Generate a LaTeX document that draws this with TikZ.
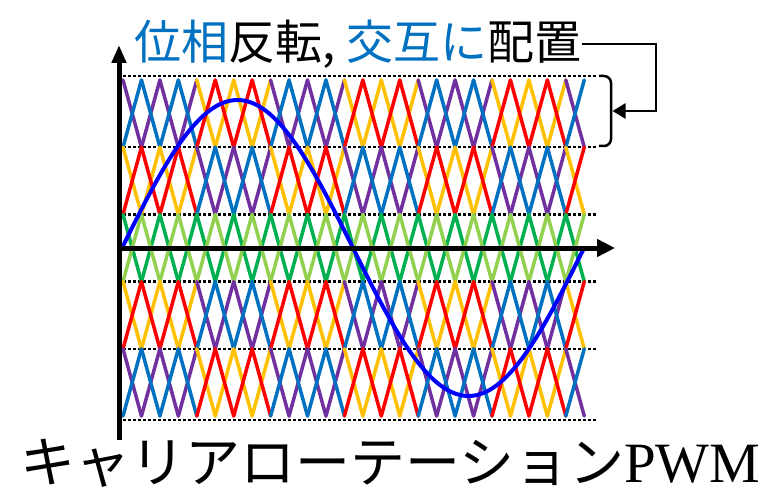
\documentclass[tikz,border=0pt]{standalone}
\usepackage{fontspec}
\usepackage{graphicx}
\usetikzlibrary{positioning}
\usetikzlibrary{arrows.meta}
\newfontfamily\jpfont{Noto Sans CJK JP}
\newfontfamily\pwmfont{Liberation Serif}
\definecolor{carPurple}{HTML}{7030A0}
\definecolor{carBlue}{HTML}{0070C0}
\definecolor{carYellow}{HTML}{FFC000}
\definecolor{carRed}{HTML}{FF0000}
\definecolor{carGreen}{HTML}{00B050}
\definecolor{carLime}{HTML}{92D050}
\definecolor{titleBlue}{HTML}{0070C0}
\definecolor{sineBlue}{HTML}{0000FF}

\begin{document}
\begin{tikzpicture}[x=1pt,y=-1pt,
	carrier/.style={line width=3.5pt,line cap=round},
	guide_line/.style={line width=2.5pt,dash pattern=on 2.5pt off 2.5pt},
	axis_line/.style={line width=5pt,-{Triangle[length=18pt,width=#1]}},
	sine_line/.style={line width=4pt,draw=sineBlue},
	brace_line/.style={line width=2.5pt,rounded corners=7pt},
	link_line/.style={line width=2.5pt,-{Triangle[length=13pt,width=15pt]}}]
	\useasboundingbox (0,0) rectangle (767,494);

	\foreach \y in {76,147.2,214.4,281.6,348.8,420}
		\draw[guide_line] (123,\y) -- (596,\y);

	\foreach \band/\ca/\cb/\cc/\cd in {0/carPurple/carBlue/carYellow/carRed,1/carYellow/carRed/carPurple/carBlue,2/carGreen/carLime/carGreen/carLime,3/carYellow/carRed/carPurple/carBlue,4/carPurple/carBlue/carYellow/carRed}
		\foreach \k in {0,...,24} {
			\pgfmathsetmacro\ytop{80+67.2*\band}
			\pgfmathsetmacro\ybot{\ytop+67.2}
			\pgfmathsetmacro\xl{123+18.45*\k}
			\pgfmathsetmacro\xr{\xl+18.45}
			\pgfmathtruncatemacro\seg{mod(floor(\k/4),2)}
			\pgfmathtruncatemacro\odd{mod(\k,2)}
			\ifnum\seg=0 \edef\colA{\ca}\edef\colB{\cb}\else\edef\colA{\cc}\edef\colB{\cd}\fi
			\ifnum\odd=0 \let\ya\ytop\let\yb\ybot\else\let\ya\ybot\let\yb\ytop\fi
			\draw[carrier,color=\colA] (\xl,\ya) -- (\xr,\yb);
			\draw[carrier,color=\colB] (\xl,\yb) -- (\xr,\ya);
		}

	\draw[sine_line] plot[domain=0:360,samples=120,smooth] ({122+1.28333*\x},{248-148*sin(\x)});

	\coordinate (v_axis_foot) at (119,440);
	\coordinate (v_axis_tip) at (119,45);
	\coordinate (h_axis_start) at (117,248);
	\coordinate (h_axis_tip) at (615,248);
	\draw[axis_line=14pt] (v_axis_foot) -- (v_axis_tip);
	\draw[axis_line=17pt] (h_axis_start) -- (h_axis_tip);

	\node [font=\jpfont\fontsize{47}{47}\selectfont,inner sep=0pt] at (358,44) (title_txt) {\textcolor{titleBlue}{位相}反転, \textcolor{titleBlue}{交互に}配置};

	\draw[brace_line] (599,76) -- (611,76) -- (611,146) -- (599,146);
	\coordinate (brace_tip) at (612.5,111);
	\coordinate (link_turn) at (656,44);
	\draw[link_line] (title_txt.east) -- (link_turn) |- (brace_tip);

	\node [anchor=base west,inner sep=0pt] at (20,482) (pwm_txt) {{\jpfont\fontsize{55}{55}\selectfont キャリアローテーション}{\pwmfont\fontsize{57}{57}\selectfont PWM}};
\end{tikzpicture}
\end{document}
